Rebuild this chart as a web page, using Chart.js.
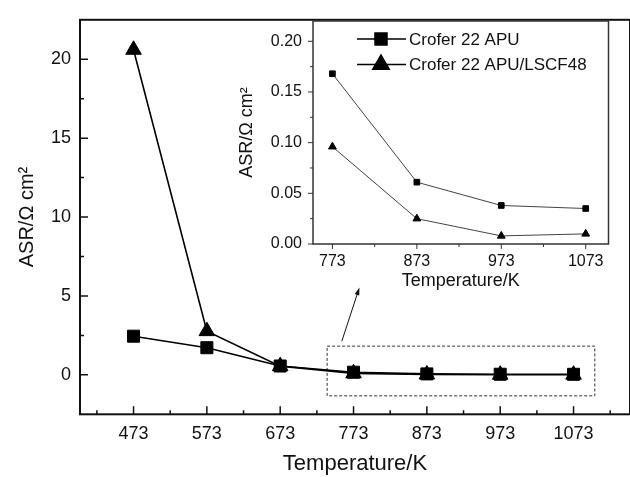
<!DOCTYPE html>
<html>
<head>
<meta charset="utf-8">
<script src="https://cdn.jsdelivr.net/npm/chart.js@4.4.1/dist/chart.umd.min.js"></script>
<style>
  html, body { margin: 0; padding: 0; background: #fff; overflow: hidden; }
  #wrap { position: relative; width: 630px; height: 477px; overflow: hidden; }
  #wrap canvas { position: absolute; left: 0; top: 0; }
</style>
</head>
<body>
<div id="wrap">
  <canvas id="main" width="640" height="477"></canvas>
  <canvas id="inset" width="630" height="477"></canvas>
</div>
<script>
// --- data ---
const temperatures = [473, 573, 673, 773, 873, 973, 1073];
const asrCrofer = [2.45, 1.72, 0.56, 0.168, 0.061, 0.038, 0.035];
const asrCoated = [20.6, 2.77, 0.55, 0.096, 0.025, 0.008, 0.010];
const seriesNames = ['Crofer 22 APU', 'Crofer 22 APU/LSCF48'];
const mainYTicks = [0, 5, 10, 15, 20];
const insetYTicks = [0, 0.05, 0.10, 0.15, 0.20];
const insetFrom = 3; // inset zooms on 773..1073 K
// dashed box and arrow on the main plot (data units)
const boxT = [737, 1102];
const boxASR = [-1.33, 1.82];
const arrowT = [757, 781];
const arrowASR = [2.13, 5.54];

Chart.defaults.font.family = '"Liberation Sans", Arial, Helvetica, sans-serif';
Chart.defaults.color = '#111';

function points(xs, ys) {
  return xs.map((x, i) => ({ x: x, y: ys[i] }));
}

// ticks between majors (and beyond them, inside the axis range)
function minorValues(ticks, min, max) {
  const step = ticks[1] - ticks[0];
  const out = [];
  for (let v = ticks[0] - step / 2; v > min + 1e-9; v -= step) out.push(v);
  for (let v = ticks[0] + step / 2; v < max - 1e-9; v += step) out.push(v);
  return out;
}

// frame + tick marks (inward for main, outward for inset)
function framePlugin(opt) {
  return {
    id: 'frame',
    afterDraw(chart) {
      const { ctx, chartArea: a, scales } = chart;
      const dir = opt.inward ? 1 : -1;
      ctx.save();
      ctx.strokeStyle = opt.color;
      ctx.lineWidth = opt.width;
      ctx.strokeRect(a.left, a.top, a.right - a.left, a.bottom - a.top);
      ctx.lineWidth = opt.tickWidth;
      ctx.beginPath();
      const xs = scales.x, ys = scales.y;
      xs.ticks.forEach(t => {
        const px = xs.getPixelForValue(t.value);
        ctx.moveTo(px, a.bottom); ctx.lineTo(px, a.bottom - dir * opt.major);
      });
      minorValues(xs.ticks.map(t => t.value), xs.min, xs.max).forEach(v => {
        const px = xs.getPixelForValue(v);
        ctx.moveTo(px, a.bottom); ctx.lineTo(px, a.bottom - dir * opt.minor);
      });
      ys.ticks.forEach(t => {
        const py = ys.getPixelForValue(t.value);
        ctx.moveTo(a.left, py); ctx.lineTo(a.left + dir * opt.major, py);
      });
      minorValues(ys.ticks.map(t => t.value), ys.min, ys.max).forEach(v => {
        const py = ys.getPixelForValue(v);
        ctx.moveTo(a.left, py); ctx.lineTo(a.left + dir * opt.minor, py);
      });
      ctx.stroke();
      ctx.restore();
    }
  };
}

const zoomBoxPlugin = {
  id: 'zoomBox',
  beforeDatasetsDraw(chart) {
    const { ctx, scales: { x, y } } = chart;
    ctx.save();
    ctx.strokeStyle = '#333';
    ctx.lineWidth = 1;
    ctx.setLineDash([3, 2]);
    const x0 = x.getPixelForValue(boxT[0]), x1 = x.getPixelForValue(boxT[1]);
    const y0 = y.getPixelForValue(boxASR[1]), y1 = y.getPixelForValue(boxASR[0]);
    ctx.strokeRect(x0, y0, x1 - x0, y1 - y0);
    ctx.setLineDash([]);
    // arrow
    const ax0 = x.getPixelForValue(arrowT[0]), ay0 = y.getPixelForValue(arrowASR[0]);
    const ax1 = x.getPixelForValue(arrowT[1]), ay1 = y.getPixelForValue(arrowASR[1]);
    const ang = Math.atan2(ay1 - ay0, ax1 - ax0);
    ctx.strokeStyle = '#111';
    ctx.beginPath();
    ctx.moveTo(ax0, ay0);
    ctx.lineTo(ax1 - 5 * Math.cos(ang), ay1 - 5 * Math.sin(ang));
    ctx.stroke();
    ctx.fillStyle = '#111';
    ctx.beginPath();
    ctx.moveTo(ax1, ay1);
    ctx.lineTo(ax1 - 8 * Math.cos(ang - 0.3), ay1 - 8 * Math.sin(ang - 0.3));
    ctx.lineTo(ax1 - 8 * Math.cos(ang + 0.3), ay1 - 8 * Math.sin(ang + 0.3));
    ctx.closePath();
    ctx.fill();
    ctx.restore();
  }
};

// legend drawn Origin-style: line - marker - line, then text
const insetLegendPlugin = {
  id: 'insetLegend',
  afterDraw(chart) {
    const { ctx } = chart;
    const rows = [
      { name: seriesNames[0], style: 'rect', r: 8.5, y: 39 },
      { name: seriesNames[1], style: 'triangle', r: 9.5, y: 64.5 }
    ];
    ctx.save();
    rows.forEach(row => {
      ctx.strokeStyle = '#000';
      ctx.lineWidth = 1.5;
      ctx.beginPath();
      ctx.moveTo(357, row.y); ctx.lineTo(406, row.y);
      ctx.stroke();
      Chart.helpers.drawPoint(ctx, {
        pointStyle: row.style, radius: row.r, borderWidth: 1, rotation: 0
      }, 381, row.y);
      ctx.fillStyle = '#000';
      ctx.fill();
      ctx.fillStyle = '#111';
      ctx.font = '17px "Liberation Sans", Arial, sans-serif';
      ctx.textBaseline = 'middle';
      ctx.fillText(row.name, 409, row.y + 1);
    });
    ctx.restore();
  }
};

// ---- main plot ----
new Chart(document.getElementById('main'), {
  type: 'line',
  data: {
    datasets: [
      {
        label: seriesNames[1],
        data: points(temperatures, asrCoated),
        order: 0,
        borderColor: '#000',
        backgroundColor: '#000',
        borderWidth: 1.6,
        pointStyle: 'triangle',
        pointRadius: 9,
        pointBorderWidth: 1,
        tension: 0
      },
      {
        label: seriesNames[0],
        data: points(temperatures, asrCrofer),
        order: 1,
        borderColor: '#000',
        backgroundColor: '#000',
        borderWidth: 1.6,
        pointStyle: 'rect',
        pointRadius: 8.5,
        pointBorderWidth: 1,
        tension: 0
      }
    ]
  },
  options: {
    responsive: false,
    animation: false,
    layout: { padding: { left: 0, top: 9, right: 9, bottom: 0 } },
    plugins: { legend: { display: false }, tooltip: { enabled: false } },
    scales: {
      x: {
        type: 'linear',
        min: 400,
        max: 1150,
        afterBuildTicks: s => { s.ticks = temperatures.map(v => ({ value: v })); },
        afterFit: s => { s.height = 62.7; },
        grid: { display: false, drawTicks: false },
        border: { display: false },
        ticks: { font: { size: 18 }, padding: 9, autoSkip: false, maxRotation: 0, color: '#111', callback: v => String(v) },
        title: { display: true, text: 'Temperature/K', font: { size: 22 }, color: '#111', padding: { top: 0, bottom: 0 } }
      },
      y: {
        min: -2.5,
        max: 22.5,
        afterBuildTicks: s => { s.ticks = mainYTicks.map(v => ({ value: v })); },
        afterFit: s => { s.width = 80; },
        grid: { display: false, drawTicks: false },
        border: { display: false },
        ticks: { font: { size: 18 }, padding: 9, color: '#111', callback: v => String(v) },
        title: { display: true, text: 'ASR/Ω cm²', font: { size: 20 }, color: '#111', padding: { top: 15, bottom: 0 } }
      }
    }
  },
  plugins: [zoomBoxPlugin, framePlugin({ inward: true, color: '#111', width: 2, tickWidth: 1.5, major: 8, minor: 4 })]
});

// ---- inset ----
new Chart(document.getElementById('inset'), {
  type: 'line',
  data: {
    datasets: [
      {
        label: seriesNames[0],
        data: points(temperatures.slice(insetFrom), asrCrofer.slice(insetFrom)),
        borderColor: '#444',
        backgroundColor: '#000',
        borderWidth: 1,
        pointStyle: 'rect',
        pointRadius: 4,
        pointBorderColor: '#000',
        pointBorderWidth: 1,
        tension: 0
      },
      {
        label: seriesNames[1],
        data: points(temperatures.slice(insetFrom), asrCoated.slice(insetFrom)),
        borderColor: '#444',
        backgroundColor: '#000',
        borderWidth: 1,
        pointStyle: 'triangle',
        pointRadius: 4.5,
        pointBorderColor: '#000',
        pointBorderWidth: 1,
        tension: 0
      }
    ]
  },
  options: {
    responsive: false,
    animation: false,
    layout: { padding: { left: 236, top: 21, right: 21.5, bottom: 183 } },
    plugins: { legend: { display: false }, tooltip: { enabled: false } },
    scales: {
      x: {
        type: 'linear',
        min: 750,
        max: 1100,
        afterBuildTicks: s => { s.ticks = temperatures.slice(insetFrom).map(v => ({ value: v })); },
        afterFit: s => { s.height = 50; },
        grid: { display: false, drawTicks: false },
        border: { display: false },
        ticks: { font: { size: 16 }, padding: 8, autoSkip: false, maxRotation: 0, color: '#111', callback: v => String(v) },
        title: { display: true, text: 'Temperature/K', font: { size: 18 }, color: '#111', padding: { top: 0, bottom: 2 } }
      },
      y: {
        min: 0,
        max: 0.22,
        afterBuildTicks: s => { s.ticks = insetYTicks.map(v => ({ value: v })); },
        afterFit: s => { s.width = 77; },
        grid: { display: false, drawTicks: false },
        border: { display: false },
        ticks: { font: { size: 16 }, padding: 11, color: '#111', callback: v => v.toFixed(2) },
        title: { display: true, text: 'ASR/Ω cm²', font: { size: 18 }, color: '#111', padding: { top: 0, bottom: 0 } }
      }
    }
  },
  plugins: [
    {
      id: 'insetBg',
      beforeDraw(chart) {
        const { ctx, chartArea: a } = chart;
        ctx.save();
        ctx.fillStyle = '#fff';
        ctx.fillRect(a.left, a.top, a.right - a.left, a.bottom - a.top);
        ctx.restore();
      }
    },
    framePlugin({ inward: false, color: '#333', width: 1.5, tickWidth: 1, major: 5, minor: 3 }),
    insetLegendPlugin
  ]
});
</script>
</body>
</html>
